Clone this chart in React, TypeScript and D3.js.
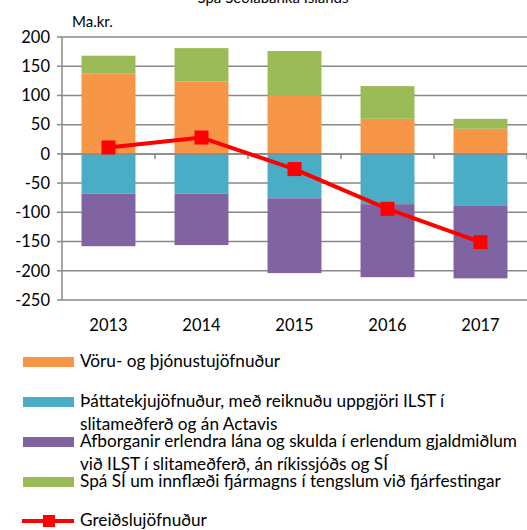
import React from "react";
import * as d3 from "d3";

const years = ["2013", "2014", "2015", "2016", "2017"];
const voru = [138, 124, 99, 60, 43];
const thatta = [-68, -68, -76, -86, -88];
const afborg = [-90, -88, -128, -125, -125];
const spa = [30, 57, 77, 56, 17];
const greidslu = [11, 28, -26, -94, -151];
const yTicks = [200, 150, 100, 50, 0, -50, -100, -150, -200, -250];

const seriesKeys = ["voru", "thatta", "afborg", "spa"];
const seriesColors: Record<string, string> = {
  voru: "#F79646",
  thatta: "#4BACC6",
  afborg: "#8064A2",
  spa: "#9BBB59",
};
const legendItems = [
  { key: "voru", lines: ["Vöru- og þjónustujöfnuður"] },
  { key: "thatta", lines: ["Þáttatekjujöfnuður, með reiknuðu uppgjöri ILST í", "slitameðferð og án Actavis"] },
  { key: "afborg", lines: ["Afborganir erlendra lána og skulda í erlendum gjaldmiðlum", "við ILST í slitameðferð, án ríkissjóðs og SÍ"] },
  { key: "spa", lines: ["Spá SÍ um innflæði fjármagns í tengslum við fjárfestingar"] },
];
const lineLabel = "Greiðslujöfnuður";
const title = "Spá Seðlabanka Íslands";
const unitLabel = "Ma.kr.";

const W = 527;
const H = 530;
const FONT = "Lato, 'Open Sans', sans-serif";
const GRID = "#888888";

export default function App() {
  const x = d3.scaleBand<string>().domain(years).range([62, 527]).paddingInner(0.42).paddingOuter(0.21);
  const y = d3.scaleLinear().domain([-250, 200]).range([300, 37]);

  const table = years.map((yr, i) => ({
    year: yr,
    voru: voru[i],
    thatta: thatta[i],
    afborg: afborg[i],
    spa: spa[i],
  }));
  const stacked = d3
    .stack<any>()
    .keys(seriesKeys)
    .offset(d3.stackOffsetDiverging)(table);

  const line = d3
    .line<number>()
    .x((_, i) => (x(years[i]) as number) + x.bandwidth() / 2)
    .y((d) => y(d));

  const step = x.step();
  const boundaries = d3.range(years.length + 1).map((i) => 62 + i * step);

  const legendRows = [362, 402, 442, 482];
  const legendLineY = 521;

  return (
    <svg
      width={W}
      height={H}
      style={{ position: "absolute", left: 0, top: 0, background: "#fff" }}
      fontFamily={FONT}
    >
      <text x={273} y={3} textAnchor="middle" fontSize={15} fill="#000">
        {title}
      </text>
      <text x={72} y={27} fontSize={15} fill="#000">
        {unitLabel}
      </text>
      {yTicks.map((t) => (
        <g key={t}>
          <line x1={62} x2={527} y1={y(t)} y2={y(t)} stroke={GRID} strokeWidth={1.5} />
          <line x1={57} x2={62} y1={y(t)} y2={y(t)} stroke={GRID} strokeWidth={1.5} />
          <text x={50} y={y(t)} dy="0.35em" textAnchor="end" fontSize={16.5} fill="#000">
            {t}
          </text>
        </g>
      ))}
      <line x1={62} x2={62} y1={y(200)} y2={y(-250)} stroke={GRID} strokeWidth={1.5} />
      {stacked.map((s) => (
        <g key={s.key} fill={seriesColors[s.key]}>
          {s.map((d, i) => (
            <rect
              key={i}
              x={x(years[i])}
              width={x.bandwidth()}
              y={y(Math.max(d[0], d[1]))}
              height={Math.abs(y(d[0]) - y(d[1]))}
            />
          ))}
        </g>
      ))}
      <line x1={62} x2={527} y1={y(0)} y2={y(0)} stroke={GRID} strokeWidth={1.5} />
      {boundaries.map((b, i) => (
        <line key={i} x1={b} x2={b} y1={y(0)} y2={y(0) + 5} stroke={GRID} strokeWidth={1.5} />
      ))}
      {years.map((yr) => (
        <text
          key={yr}
          x={(x(yr) as number) + x.bandwidth() / 2}
          y={331}
          textAnchor="middle"
          fontSize={16.5}
          fill="#000"
        >
          {yr}
        </text>
      ))}
      <path d={line(greidslu) || ""} fill="none" stroke="#FF0000" strokeWidth={4} strokeLinejoin="round" />
      {greidslu.map((v, i) => (
        <rect
          key={i}
          x={(x(years[i]) as number) + x.bandwidth() / 2 - 7}
          y={y(v) - 7}
          width={14}
          height={14}
          fill="#FF0000"
        />
      ))}
      {legendItems.map((item, k) => (
        <g key={item.key}>
          <rect x={23} y={legendRows[k] - 5} width={51} height={10} fill={seriesColors[item.key]} />
          {item.lines.map((ln, j) => (
            <text key={j} x={80} y={legendRows[k] + 5 + j * 23} fontSize={17.2} fill="#000">
              {ln}
            </text>
          ))}
        </g>
      ))}
      <line x1={22} x2={74} y1={legendLineY} y2={legendLineY} stroke="#FF0000" strokeWidth={4} />
      <rect x={43} y={legendLineY - 6} width={12} height={12} fill="#FF0000" />
      <text x={80} y={legendLineY + 5} fontSize={17.2} fill="#000">
        {lineLabel}
      </text>
    </svg>
  );
}
